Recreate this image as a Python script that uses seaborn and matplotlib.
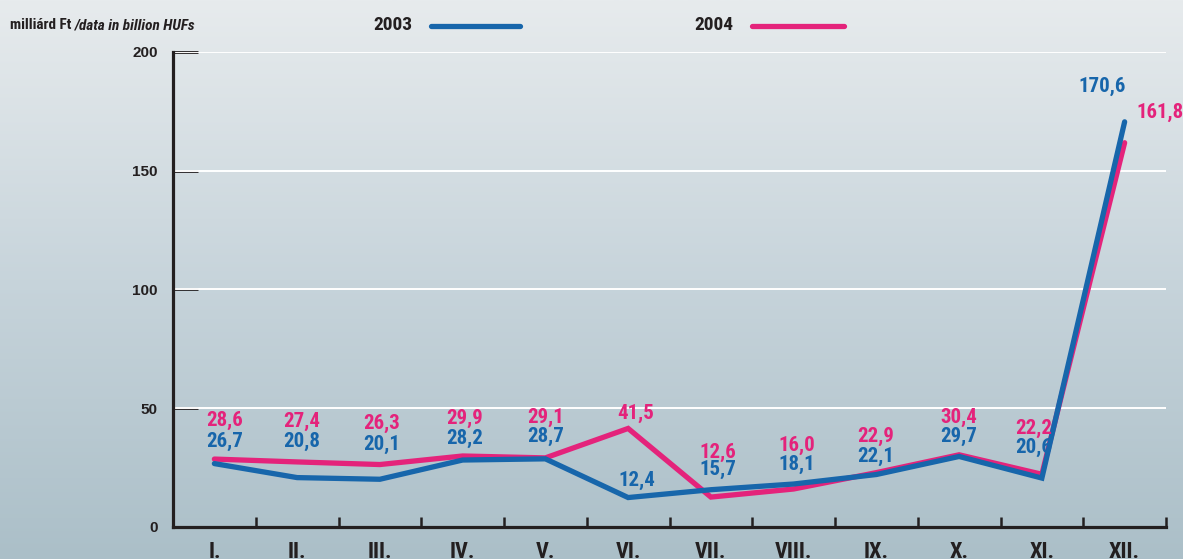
import numpy as np
import pandas as pd
import matplotlib
matplotlib.use("Agg")
import matplotlib.pyplot as plt
from matplotlib import font_manager
from matplotlib.lines import Line2D
import seaborn as sns

# ---- data -------------------------------------------------------------
months = ["I.", "II.", "III.", "IV.", "V.", "VI.", "VII.", "VIII.", "IX.", "X.", "XI.", "XII."]
values_2003 = [26.7, 20.8, 20.1, 28.2, 28.7, 12.4, 15.7, 18.1, 22.1, 29.7, 20.6, 170.6]
values_2004 = [28.6, 27.4, 26.3, 29.9, 29.1, 41.5, 12.6, 16.0, 22.9, 30.4, 22.2, 161.8]
years = ["2003", "2004"]
y_ticks = [0, 50, 100, 150, 200]

# label placement (pixel offsets from each point: dx, dy)
off_2003 = [(10, 22), (5, 36), (2, 35), (2, 22), (0, 22), (9, 17),
            (7, 20), (3, 20), (-1, 18), (0, 20), (-8, 31), (-23, 35)]
off_2004 = [(10, 39), (5, 40), (2, 41), (2, 38), (0, 40), (8, 15),
            (7, 45), (3, 44), (-1, 36), (0, 37), (-8, 46), (35, 30)]

BLUE = "#1766ab"
PINK = "#e4237b"
INK = "#231f20"

sns.set_theme(style="white")
installed = {f.name for f in font_manager.fontManager.ttflist}
cond = next((n for n in ["Roboto Condensed", "Archivo Narrow", "PT Sans Narrow",
                         "Fira Sans Condensed", "Barlow Condensed"] if n in installed), "DejaVu Sans")
plain = "Liberation Sans" if "Liberation Sans" in installed else "DejaVu Sans"
plt.rcParams["font.family"] = [cond, "DejaVu Sans"]

W, H = 1183, 559
fig = plt.figure(figsize=(W / 100, H / 100), dpi=100)

# vertical background gradient
bg = fig.add_axes([0, 0, 1, 1], zorder=-10)
top_c = np.array([231, 235, 237]) / 255
mid_c = np.array([199, 212, 219]) / 255
bot_c = np.array([171, 191, 200]) / 255
t = np.linspace(0, 1, 256)[:, None]
grad = np.where(t < 0.5, top_c + (mid_c - top_c) * (t / 0.5), mid_c + (bot_c - mid_c) * ((t - 0.5) / 0.5))
bg.imshow(grad[:, None, :], aspect="auto", extent=[0, 1, 0, 1], origin="upper")
bg.axis("off")

# main axes
left, right = 173 / W, 1166 / W
bottom, top = 1 - 527 / H, 1 - 52 / H
ax = fig.add_axes([left, bottom, right - left, top - bottom])
ax.set_facecolor("none")

df = pd.DataFrame({
    "month": list(range(len(months))) * 2,
    "value": values_2003 + values_2004,
    "year": [years[0]] * len(months) + [years[1]] * len(months),
})
for yv in y_ticks[1:]:
    ax.axhline(yv, color="white", lw=1.4, zorder=1)

sns.lineplot(data=df[df.year == "2004"], x="month", y="value", color=PINK, lw=3.8,
             ax=ax, zorder=3, solid_capstyle="round", solid_joinstyle="miter", legend=False)
sns.lineplot(data=df[df.year == "2003"], x="month", y="value", color=BLUE, lw=3.8,
             ax=ax, zorder=4, solid_capstyle="round", solid_joinstyle="miter", legend=False)

ax.set_xlim(-0.5, len(months) - 0.5)
ax.set_ylim(0, 200)
ax.set_xlabel("")
ax.set_ylabel("")

# data labels
lab_kw = dict(textcoords="offset pixels", ha="center", va="center",
              fontsize=15, fontweight="bold", zorder=6)
for i, (v, (dx, dy)) in enumerate(zip(values_2003, off_2003)):
    ax.annotate(f"{v:.1f}".replace(".", ","), (i, v), xytext=(dx, dy), color=BLUE, **lab_kw)
for i, (v, (dx, dy)) in enumerate(zip(values_2004, off_2004)):
    ax.annotate(f"{v:.1f}".replace(".", ","), (i, v), xytext=(dx, dy), color=PINK, **lab_kw)

# spines and ticks
for s in ("top", "right"):
    ax.spines[s].set_visible(False)
for s in ("left", "bottom"):
    ax.spines[s].set_color(INK)
    ax.spines[s].set_linewidth(2.3)
    ax.spines[s].set_zorder(5)

ax.set_yticks(y_ticks)
ax.set_yticklabels([str(v) for v in y_ticks], fontsize=11, fontweight="bold",
                   color=INK, family=[plain, "DejaVu Sans"])
ax.tick_params(axis="y", direction="in", length=18, width=2.0, color=INK, pad=11, left=True)

ax.set_xticks(np.arange(len(months)) + 0.5)
ax.set_xticklabels([])
ax.tick_params(axis="x", which="major", direction="in", length=7.5, width=1.8, color=INK, bottom=True)
ax.set_xticks(np.arange(len(months)), minor=True)
ax.set_xticklabels(months, minor=True, fontsize=16, fontweight="bold", color=INK)
ax.tick_params(axis="x", which="minor", length=0, pad=10)
for tl in ax.get_xticklabels(minor=True):
    tl.set_va("top")

# header: unit note and legend
fy = 1 - 25 / H
t1 = fig.text(10 / W, fy, "milliárd Ft ", fontsize=11, fontweight="bold", color=INK, va="center")
fig.canvas.draw()
bb = t1.get_window_extent()
fig.text(bb.x1 / W, fy, "/data in billion HUFs", fontsize=11, fontweight="bold",
         style="italic", color=INK, va="center")

fig.text(412 / W, fy, years[0], fontsize=14, fontweight="bold", color=INK, ha="right", va="center")
fig.add_artist(Line2D([431 / W, 520 / W], [1 - 26 / H] * 2, transform=fig.transFigure,
                      color=BLUE, lw=3.8, solid_capstyle="round"))
fig.text(733 / W, fy, years[1], fontsize=14, fontweight="bold", color=INK, ha="right", va="center")
fig.add_artist(Line2D([752 / W, 844 / W], [1 - 26 / H] * 2, transform=fig.transFigure,
                      color=PINK, lw=3.8, solid_capstyle="round"))

fig.savefig("out.png", dpi=100)
